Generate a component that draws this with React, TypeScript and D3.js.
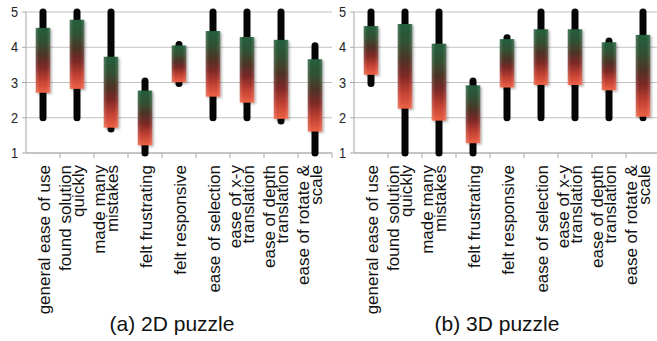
import React from "react";
import * as d3 from "d3";

const categories: string[][] = [
  ["general ease of use"],
  ["found solution", "quickly"],
  ["made many", "mistakes"],
  ["felt frustrating"],
  ["felt responsive"],
  ["ease of selection"],
  ["ease of x-y", "translation"],
  ["ease of depth", "translation"],
  ["ease of rotate &", "scale"],
];

const yTicks = [1, 2, 3, 4, 5];

// 2D puzzle
const min2D = [2, 2, 1.68, 1, 2.97, 2, 2, 1.91, 1];
const max2D = [5, 5, 5, 3.04, 4.08, 5, 5, 5, 4.04];
const lo2D = [2.71, 2.82, 1.72, 1.22, 3.01, 2.6, 2.43, 1.97, 1.61];
const hi2D = [4.55, 4.78, 3.73, 2.77, 4.05, 4.46, 4.29, 4.21, 3.66];

// 3D puzzle
const min3D = [2.97, 1, 1, 1, 2, 2, 2, 2, 2];
const max3D = [5, 5, 5, 3.04, 4.27, 5, 5, 4.18, 5];
const lo3D = [3.22, 2.26, 1.92, 1.28, 2.86, 2.93, 2.93, 2.78, 2.03];
const hi3D = [4.6, 4.66, 4.1, 2.92, 4.23, 4.51, 4.51, 4.14, 4.35];

const titles = ["(a) 2D puzzle", "(b) 3D puzzle"];

const W = 657;
const H = 341;
const TOP = 12;
const BOTTOM = 153;
const FONT = "'Liberation Sans', Arial, Helvetica, sans-serif";

type PanelProps = {
  x0: number;
  x1: number;
  mins: number[];
  maxs: number[];
  los: number[];
  his: number[];
  title: string;
  titleX: number;
  id: string;
};

function Panel({ x0, x1, mins, maxs, los, his, title, titleX, id }: PanelProps) {
  const names = categories.map((c) => c.join(" "));
  const x = d3.scaleBand<string>().domain(names).range([x0, x1]).padding(0);
  const y = d3.scaleLinear().domain([1, 5]).range([BOTTOM, TOP]);
  const bw = 14.5;
  const lh = 13.5;
  return (
    <g>
      {/* gridlines */}
      {yTicks.map((t) => (
        <line key={"g" + t} x1={x0} x2={x1} y1={y(t)} y2={y(t)} stroke="#c2c2c2" strokeWidth={1} />
      ))}
      {/* y axis */}
      <line x1={x0} x2={x0} y1={TOP} y2={BOTTOM} stroke="#a8a8a8" strokeWidth={1} />
      {yTicks.map((t) => (
        <line key={"yt" + t} x1={x0 - 4} x2={x0} y1={y(t)} y2={y(t)} stroke="#a8a8a8" strokeWidth={1} />
      ))}
      {yTicks.map((t) => (
        <text
          key={"yl" + t}
          transform={`translate(${x0 - 8},${y(t)}) scale(0.88,1)`}
          textAnchor="end"
          dy="0.36em"
          fontSize={14.5}
          fontFamily={FONT}
          fill="#222"
        >
          {t}
        </text>
      ))}
      {/* x axis */}
      <line x1={x0} x2={x1} y1={BOTTOM} y2={BOTTOM} stroke="#a8a8a8" strokeWidth={1} />
      {names.map((n, i) => (
        <line
          key={"xt" + i}
          x1={(x(n) as number) + x.bandwidth()}
          x2={(x(n) as number) + x.bandwidth()}
          y1={BOTTOM}
          y2={BOTTOM + 5}
          stroke="#a8a8a8"
          strokeWidth={1}
        />
      ))}
      {/* boxes */}
      {names.map((n, i) => {
        const cx = (x(n) as number) + x.bandwidth() / 2;
        return (
          <g key={"b" + i}>
            <line
              x1={cx}
              x2={cx}
              y1={y(mins[i])}
              y2={y(maxs[i])}
              stroke="#050505"
              strokeWidth={7}
              strokeLinecap="round"
            />
            <rect
              x={cx - bw / 2}
              y={y(his[i])}
              width={bw}
              height={y(los[i]) - y(his[i])}
              fill={`url(#grad${id})`}
              filter={`url(#shadow${id})`}
            />
            <rect
              x={cx - bw / 2}
              y={y(his[i])}
              width={bw}
              height={y(los[i]) - y(his[i])}
              fill={`url(#edge${id})`}
            />
          </g>
        );
      })}
      {/* category labels */}
      {categories.map((lines, i) => {
        const cx = (x(names[i]) as number) + x.bandwidth() / 2;
        const n = lines.length;
        return (
          <text
            key={"cl" + i}
            transform={`translate(${cx},${BOTTOM + 12}) rotate(-90)`}
            textAnchor="end"
            fontSize={17}
            fontFamily={FONT}
            fill="#111"
          >
            {lines.map((ln, j) => (
              <tspan key={j} x={0} y={7 - (n - 1 - j) * lh}>
                {ln}
              </tspan>
            ))}
          </text>
        );
      })}
      <text x={titleX} y={331} textAnchor="middle" fontSize={21} fontFamily={FONT} fill="#111">
        {title}
      </text>
    </g>
  );
}

function Defs({ id }: { id: string }) {
  return (
    <>
      <linearGradient id={`grad${id}`} x1="0" y1="0" x2="0" y2="1">
        <stop offset="0%" stopColor="#1a5834" />
        <stop offset="22%" stopColor="#294a2a" />
        <stop offset="42%" stopColor="#452b1c" />
        <stop offset="60%" stopColor="#761f1c" />
        <stop offset="80%" stopColor="#bd3729" />
        <stop offset="100%" stopColor="#ec5b3e" />
      </linearGradient>
      <linearGradient id={`edge${id}`} x1="0" y1="0" x2="1" y2="0">
        <stop offset="0%" stopColor="#ffffff" stopOpacity={0.22} />
        <stop offset="25%" stopColor="#ffffff" stopOpacity={0.04} />
        <stop offset="75%" stopColor="#ffffff" stopOpacity={0.04} />
        <stop offset="100%" stopColor="#ffffff" stopOpacity={0.22} />
      </linearGradient>
      <filter id={`shadow${id}`} x="-50%" y="-20%" width="200%" height="140%">
        <feDropShadow dx={1.5} dy={1.5} stdDeviation={1.2} floodColor="#000" floodOpacity={0.3} />
      </filter>
    </>
  );
}

export default function App() {
  return (
    <svg
      width={W}
      height={H}
      style={{ position: "absolute", left: 0, top: 0, background: "#fff" }}
    >
      <defs>
        <Defs id="a" />
      </defs>
      <rect x={0} y={0} width={W} height={H} fill="#fff" />
      <Panel x0={26} x1={332} mins={min2D} maxs={max2D} los={lo2D} his={hi2D} title={titles[0]} titleX={172} id="a" />
      <Panel x0={354} x1={660} mins={min3D} maxs={max3D} los={lo3D} his={hi3D} title={titles[1]} titleX={497} id="a" />
    </svg>
  );
}
